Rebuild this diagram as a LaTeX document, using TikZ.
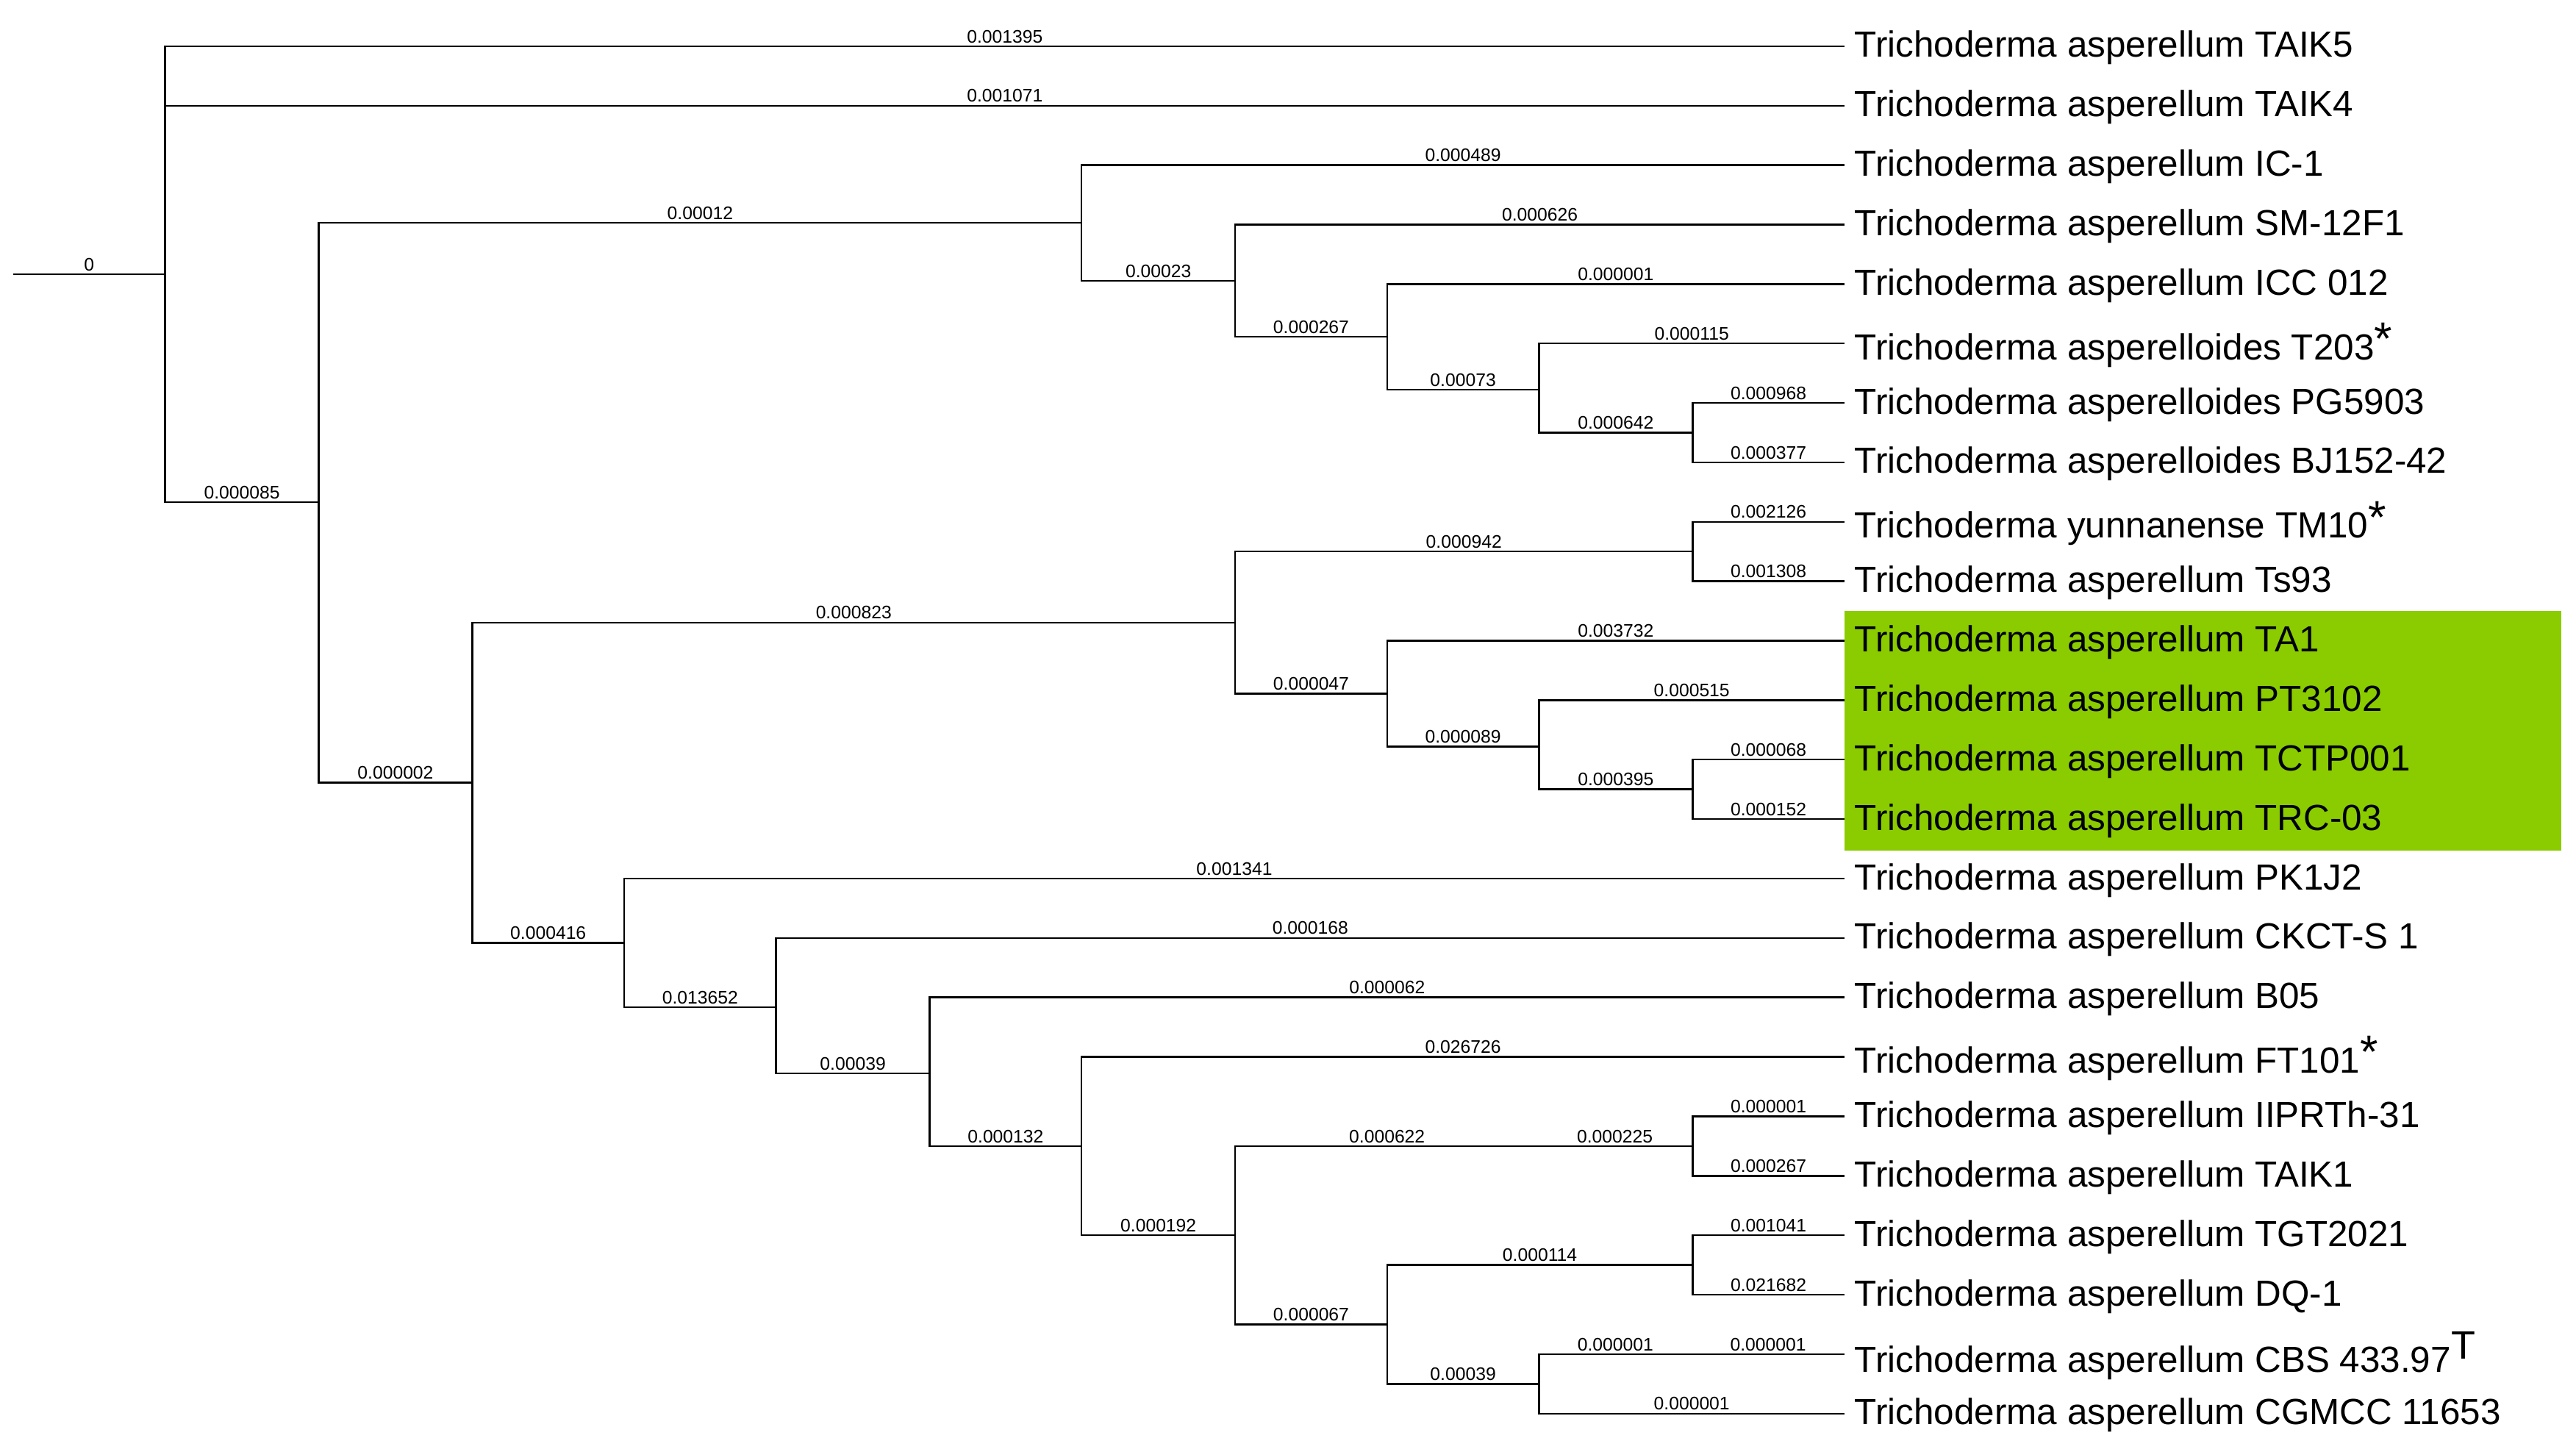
\documentclass[tikz,border=0pt]{standalone}
\usepackage{fontspec}
\setmainfont{Liberation Sans}
\definecolor{hl}{HTML}{8ACC00}
\begin{document}
\begin{tikzpicture}[x=1pt,y=-1pt,
  br/.style={line width=1.1pt},
  bl/.style={font=\fontsize{11}{12}\selectfont,inner sep=1.5pt,above},
  leaf/.style={anchor=west,font=\fontsize{22}{24}\selectfont,inner sep=0pt,xshift=6pt,yshift=-1pt}]
\useasboundingbox (0,0) rectangle (1560,879);
\fill[hl] (1117,370) rectangle (1551,515);
% internal nodes
\coordinate (R0) at (8,166);
\coordinate (A) at (100,166);
\coordinate (B) at (193,304);
\coordinate (C) at (655,135);
\coordinate (D) at (286,474);
\coordinate (E) at (748,170);
\coordinate (F) at (840,204);
\coordinate (G) at (932,236);
\coordinate (H) at (1025,262);
\coordinate (I) at (748,377);
\coordinate (J) at (378,571);
\coordinate (K) at (1025,334);
\coordinate (L) at (840,420);
\coordinate (M) at (932,452);
\coordinate (N) at (1025,478);
\coordinate (O) at (470,610);
\coordinate (P) at (563,650);
\coordinate (Q) at (655,694);
\coordinate (Rr) at (748,748);
\coordinate (S) at (1025,694);
\coordinate (T) at (840,802);
\coordinate (U) at (1025,766);
\coordinate (V) at (932,838);
% leaves
\foreach \n/\y/\t in {l1/28/{Trichoderma asperellum TAIK5},
 l2/64/{Trichoderma asperellum TAIK4},
 l3/100/{Trichoderma asperellum IC-1},
 l4/136/{Trichoderma asperellum SM-12F1},
 l5/172/{Trichoderma asperellum ICC 012},
 l6/208/{Trichoderma asperelloides T203\raisebox{3pt}{\fontsize{28}{28}\selectfont *}},
 l7/244/{Trichoderma asperelloides PG5903},
 l8/280/{Trichoderma asperelloides BJ152-42},
 l9/316/{Trichoderma yunnanense TM10\raisebox{3pt}{\fontsize{28}{28}\selectfont *}},
 l10/352/{Trichoderma asperellum Ts93},
 l11/388/{Trichoderma asperellum TA1},
 l12/424/{Trichoderma asperellum PT3102},
 l13/460/{Trichoderma asperellum TCTP001},
 l14/496/{Trichoderma asperellum TRC-03},
 l15/532/{Trichoderma asperellum PK1J2},
 l16/568/{Trichoderma asperellum CKCT-S 1},
 l17/604/{Trichoderma asperellum B05},
 l18/640/{Trichoderma asperellum FT101\raisebox{3pt}{\fontsize{28}{28}\selectfont *}},
 l19/676/{Trichoderma asperellum IIPRTh-31},
 l20/712/{Trichoderma asperellum TAIK1},
 l21/748/{Trichoderma asperellum TGT2021},
 l22/784/{Trichoderma asperellum DQ-1},
 l23/820/{Trichoderma asperellum CBS 433.97\raisebox{8pt}{\fontsize{24}{24}\selectfont T}},
 l24/856/{Trichoderma asperellum CGMCC 11653}}
 {\coordinate (\n) at (1117,\y); \node[leaf] (t\n) at (\n) {\t};}
\draw[br] (R0) -- node[bl]{0} (A);
\draw[br] (A) |- node[bl,pos=0.75]{0.001395} (l1);
\draw[br] (A) |- node[bl,pos=0.75]{0.001071} (l2);
\draw[br] (A) |- node[bl,pos=0.75]{0.000085} (B);
\draw[br] (B) |- node[bl,pos=0.75]{0.00012} (C);
\draw[br] (B) |- node[bl,pos=0.75]{0.000002} (D);
\draw[br] (C) |- node[bl,pos=0.75]{0.000489} (l3);
\draw[br] (C) |- node[bl,pos=0.75]{0.00023} (E);
\draw[br] (E) |- node[bl,pos=0.75]{0.000626} (l4);
\draw[br] (E) |- node[bl,pos=0.75]{0.000267} (F);
\draw[br] (F) |- node[bl,pos=0.75]{0.000001} (l5);
\draw[br] (F) |- node[bl,pos=0.75]{0.00073} (G);
\draw[br] (G) |- node[bl,pos=0.75]{0.000115} (l6);
\draw[br] (G) |- node[bl,pos=0.75]{0.000642} (H);
\draw[br] (H) |- node[bl,pos=0.75]{0.000968} (l7);
\draw[br] (H) |- node[bl,pos=0.75]{0.000377} (l8);
\draw[br] (D) |- node[bl,pos=0.75]{0.000823} (I);
\draw[br] (D) |- node[bl,pos=0.75]{0.000416} (J);
\draw[br] (I) |- node[bl,pos=0.75]{0.000942} (K);
\draw[br] (I) |- node[bl,pos=0.75]{0.000047} (L);
\draw[br] (K) |- node[bl,pos=0.75]{0.002126} (l9);
\draw[br] (K) |- node[bl,pos=0.75]{0.001308} (l10);
\draw[br] (L) |- node[bl,pos=0.75]{0.003732} (l11);
\draw[br] (L) |- node[bl,pos=0.75]{0.000089} (M);
\draw[br] (M) |- node[bl,pos=0.75]{0.000515} (l12);
\draw[br] (M) |- node[bl,pos=0.75]{0.000395} (N);
\draw[br] (N) |- node[bl,pos=0.75]{0.000068} (l13);
\draw[br] (N) |- node[bl,pos=0.75]{0.000152} (l14);
\draw[br] (J) |- node[bl,pos=0.75]{0.001341} (l15);
\draw[br] (J) |- node[bl,pos=0.75]{0.013652} (O);
\draw[br] (O) |- node[bl,pos=0.75]{0.000168} (l16);
\draw[br] (O) |- node[bl,pos=0.75]{0.00039} (P);
\draw[br] (P) |- node[bl,pos=0.75]{0.000062} (l17);
\draw[br] (P) |- node[bl,pos=0.75]{0.000132} (Q);
\draw[br] (Q) |- node[bl,pos=0.75]{0.026726} (l18);
\draw[br] (Q) |- node[bl,pos=0.75]{0.000192} (Rr);
\draw[br] (Rr) |- node[bl,pos=0.666]{0.000622} node[bl,pos=0.915]{0.000225} (S);
\draw[br] (Rr) |- node[bl,pos=0.75]{0.000067} (T);
\draw[br] (S) |- node[bl,pos=0.75]{0.000001} (l19);
\draw[br] (S) |- node[bl,pos=0.75]{0.000267} (l20);
\draw[br] (T) |- node[bl,pos=0.75]{0.000114} (U);
\draw[br] (T) |- node[bl,pos=0.75]{0.00039} (V);
\draw[br] (U) |- node[bl,pos=0.75]{0.001041} (l21);
\draw[br] (U) |- node[bl,pos=0.75]{0.021682} (l22);
\draw[br] (V) |- node[bl,pos=0.625]{0.000001} node[bl,pos=0.875]{0.000001} (l23);
\draw[br] (V) |- node[bl,pos=0.75]{0.000001} (l24);
\end{tikzpicture}
\end{document}
